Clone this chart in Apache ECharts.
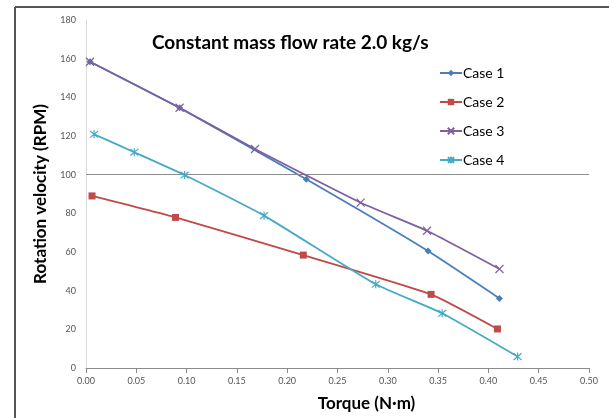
<!DOCTYPE html>
<html><head><meta charset="utf-8">
<script src="https://cdn.jsdelivr.net/npm/echarts@6/dist/echarts.min.js"></script>
<style>html,body{margin:0;padding:0;background:#fff}#c{width:609px;height:418px}</style>
</head><body><div id="c"></div>
<script>
const seriesNames = ['Case 1', 'Case 2', 'Case 3', 'Case 4'];
const case1 = [[0.004, 158.4], [0.093, 134.6], [0.219, 97.6], [0.340, 60.5], [0.411, 36.0]];
const case2 = [[0.006, 89.0], [0.089, 77.9], [0.216, 58.4], [0.343, 38.1], [0.409, 20.2]];
const case3 = [[0.004, 158.4], [0.093, 134.6], [0.168, 113.3], [0.273, 85.5], [0.339, 71.0], [0.411, 51.2]];
const case4 = [[0.008, 120.9], [0.048, 111.6], [0.098, 99.8], [0.177, 78.8], [0.288, 43.3], [0.354, 28.3], [0.429, 5.9]];
const xTicks = [0, 0.05, 0.10, 0.15, 0.20, 0.25, 0.30, 0.35, 0.40, 0.45, 0.50];
const yTicks = [0, 20, 40, 60, 80, 100, 120, 140, 160, 180];

const colors = ['#4A7EBB', '#BE4B48', '#7D60A0', '#46AAC5'];
const xSym = 'path://M0,0L10,10M10,0L0,10';
const starSym = 'path://M0,0L10,10M10,0L0,10M5,-1L5,11';
const symbols = ['diamond', 'rect', xSym, starSym];
const sizes = [7, 7, 8, 8];
const datas = [case1, case2, case3, case4];

const chart = echarts.init(document.getElementById('c'));
const series = datas.map((d, i) => ({
  name: seriesNames[i],
  type: 'line',
  data: d,
  smooth: 0.15,
  symbol: symbols[i],
  symbolSize: sizes[i],
  showAllSymbol: true,
  lineStyle: { color: colors[i], width: 1.8 },
  itemStyle: { color: colors[i], borderColor: colors[i], borderWidth: i >= 2 ? 1.2 : 0 },
  emphasis: { disabled: true },
  z: 3 + i,
  markLine: i === 0 ? {
    silent: true, symbol: 'none', label: { show: false },
    lineStyle: { color: '#8c8c8c', type: 'solid', width: 1 },
    data: [{ yAxis: 100 }]
  } : undefined
}));

chart.setOption({
  animation: false,
  textStyle: { fontFamily: 'Lato' },
  title: {
    text: 'Constant mass flow rate 2.0 kg/s',
    left: 147, top: 28,
    textStyle: { fontFamily: 'Lato', fontWeight: 'bold', fontSize: 19, color: '#000' }
  },
  legend: {
    orient: 'vertical', left: 434, top: 61, itemGap: 15,
    itemWidth: 22, itemHeight: 8,
    textStyle: { fontFamily: 'Lato', fontSize: 14, color: '#000', padding: [0, 0, 0, -4] },
    data: seriesNames
  },
  grid: { left: 86, right: 20, top: 20, bottom: 50 },
  xAxis: {
    type: 'value', min: xTicks[0], max: xTicks[xTicks.length - 1], interval: 0.05,
    name: 'Torque (N·m)', nameLocation: 'middle', nameGap: 27,
    nameTextStyle: { fontFamily: 'Lato', fontWeight: 'bold', fontSize: 17, color: '#000', padding: [0, 0, 0, 58] },
    axisLine: { show: true, lineStyle: { color: '#8c8c8c', width: 1 } },
    axisTick: { show: true, length: 5, inside: false, lineStyle: { color: '#8c8c8c' } },
    axisLabel: { fontSize: 9, color: '#555', margin: 9, formatter: v => v.toFixed(2) },
    splitLine: { show: false }
  },
  yAxis: {
    type: 'value', min: yTicks[0], max: yTicks[yTicks.length - 1], interval: 20,
    name: 'Rotation velocity (RPM)', nameLocation: 'middle', nameGap: 33,
    nameTextStyle: { fontFamily: 'Lato', fontWeight: 'bold', fontSize: 17, color: '#000' },
    axisLine: { show: true, lineStyle: { color: '#d9d9d9', width: 1 } },
    axisTick: { show: false },
    axisLabel: { fontSize: 9, color: '#555', margin: 10 },
    splitLine: { show: false }
  },
  graphic: [
    { type: 'line', shape: { x1: 15, y1: 7, x2: 609, y2: 7 }, style: { stroke: '#555', lineWidth: 2 }, silent: true },
    { type: 'line', shape: { x1: 15, y1: 7, x2: 15, y2: 418 }, style: { stroke: '#555', lineWidth: 2 }, silent: true }
  ],
  series: series
});
</script>
</body></html>
